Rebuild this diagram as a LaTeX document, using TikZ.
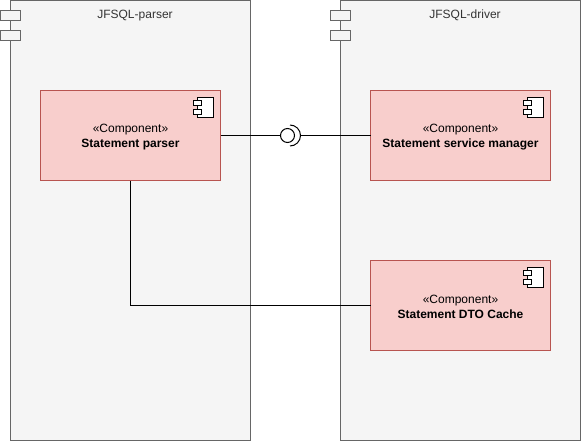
\documentclass[tikz,border=0pt]{standalone}
\usepackage{fontspec}
\setmainfont{Liberation Sans}
\definecolor{contfill}{HTML}{F5F5F5}
\definecolor{contline}{HTML}{666666}
\definecolor{conttext}{HTML}{333333}
\definecolor{compfill}{HTML}{F8CECC}
\definecolor{compline}{HTML}{B85450}
\tikzset{
  every node/.style={inner sep=0pt,outer sep=0pt},
  container/.style={draw=contline,fill=contfill,line width=1pt,minimum width=240pt,minimum height=440pt,anchor=north west},
  tabbox/.style={draw=contline,fill=contfill,line width=1pt,minimum width=20pt,minimum height=10pt,anchor=north west},
  contlabel/.style={text=conttext,font=\fontsize{12}{14}\selectfont,anchor=base},
  component/.style={draw=compline,fill=compfill,line width=1pt,minimum width=180pt,minimum height=90pt,anchor=north west},
  comptext/.style={align=center,font=\fontsize{12}{15}\selectfont},
  iconmain/.style={draw=black,fill=white,line width=1pt,minimum width=16pt,minimum height=20pt,anchor=north west},
  icontab/.style={draw=black,fill=white,line width=1pt,minimum width=8pt,minimum height=4.5pt,anchor=north west},
  wire/.style={draw=black,line width=1pt},
  lollipop/.style={circle,draw=black,line width=1pt,minimum size=14pt,fill=none},
}
\newcommand{\compicon}[1]{%
  \node[iconmain] (#1main) at ([xshift=-23pt,yshift=-7pt]#1.north east) {};
  \node[icontab] (#1taba) at ([xshift=-27pt,yshift=-10pt]#1.north east) {};
  \node[icontab] (#1tabb) at ([xshift=-27pt,yshift=-19pt]#1.north east) {};
}
\begin{document}
\begin{tikzpicture}[x=1pt,y=-1pt]
\useasboundingbox (0,0) rectangle (582,442);
% containers
\node[container] (parser) at (10.5,0.5) {};
\node[tabbox] (parsertaba) at (0.5,10.5) {};
\node[tabbox] (parsertabb) at (0.5,30.5) {};
\node[contlabel] (parserlabel) at (135,18) {JFSQL-parser};
\node[container] (driver) at (340.5,0.5) {};
\node[tabbox] (drivertaba) at (330.5,10.5) {};
\node[tabbox] (drivertabb) at (330.5,30.5) {};
\node[contlabel] (driverlabel) at (465,18) {JFSQL-driver};
% components
\node[component] (sp) at (40.5,90.5) {};
\node[component] (sm) at (370.5,90.5) {};
\node[component] (dc) at (370.5,260.5) {};
\node[comptext] (sptext) at ([yshift=-1.5pt]sp.center) {«Component»\\\textbf{Statement parser}};
\node[comptext] (smtext) at ([yshift=-1.5pt]sm.center) {«Component»\\\textbf{Statement service manager}};
\node[comptext] (dctext) at ([yshift=-1.2pt]dc.center) {«Component»\\\textbf{Statement DTO Cache}};
\compicon{sp}
\compicon{sm}
\compicon{dc}
% interface
\node[lollipop] (ball) at (287.5,135.5) {};
\coordinate (socketedge) at (301,135.5);
\draw[wire] (290,125) arc[start angle=90,end angle=-90,radius=10.5pt];
\draw[wire] (sp.east) -- (ball.west);
\draw[wire] (socketedge) -- (sm.west);
\draw[wire] (sp.south) |- (dc.west);
\end{tikzpicture}
\end{document}
